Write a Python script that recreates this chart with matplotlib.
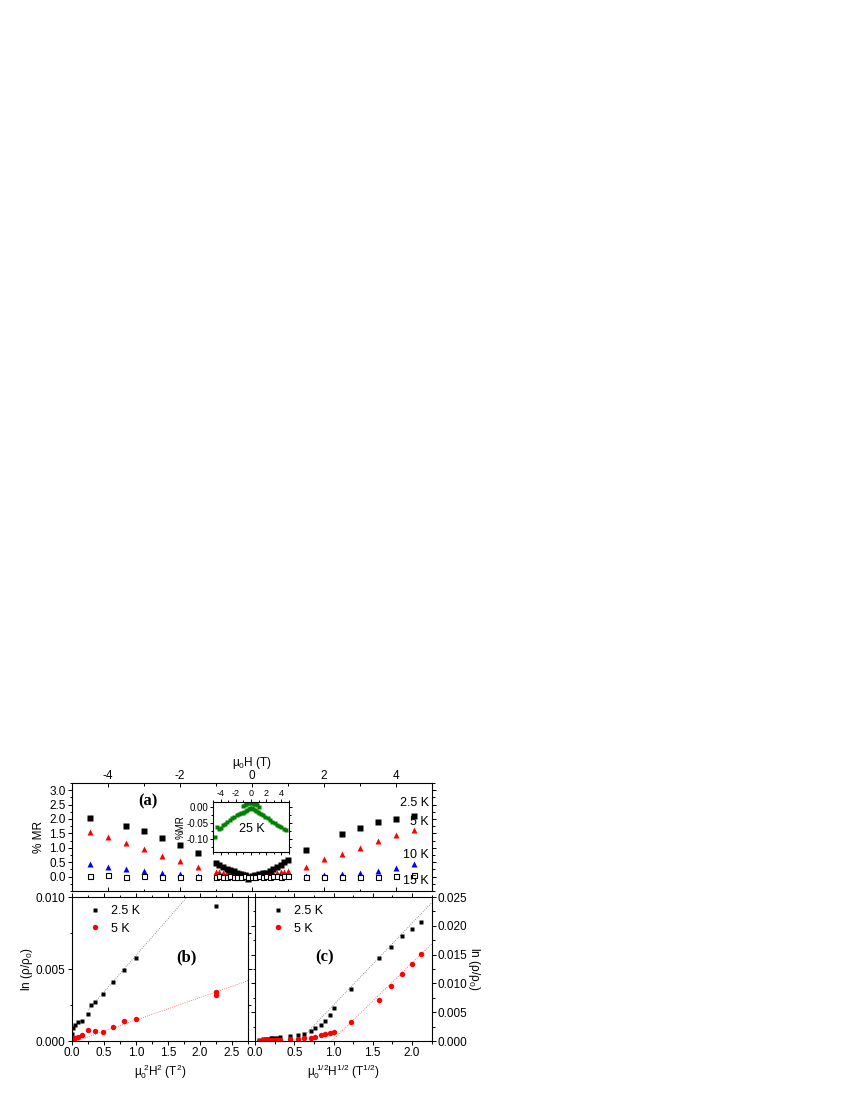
import numpy as np
import matplotlib
matplotlib.use('Agg')
import matplotlib.pyplot as plt
from matplotlib.ticker import MultipleLocator

plt.rcParams['font.family'] = ['Liberation Sans', 'DejaVu Sans']
plt.rcParams['mathtext.fontset'] = 'custom'
plt.rcParams['mathtext.rm'] = 'Liberation Sans'
plt.rcParams['mathtext.it'] = 'Liberation Sans:italic'
plt.rcParams['font.size'] = 8.5

# ---------------- data: panel (a) %MR vs mu0H ----------------
low_H = [-1.0, -0.9, -0.8, -0.7, -0.6, -0.5, -0.4, -0.3, -0.2, -0.1, 0.0,
         0.1, 0.2, 0.3, 0.4, 0.5, 0.6, 0.7, 0.8, 0.9, 1.0]

H_25 = [-4.5, -3.5, -3.0, -2.5, -2.0, -1.5] + low_H + [1.5, 2.5, 3.0, 3.5, 4.0, 4.5]
MR_25 = [2.04, 1.77, 1.57, 1.33, 1.11, 0.82,
         0.46, 0.39, 0.33, 0.28, 0.23, 0.18, 0.13, 0.09, 0.05, -0.07, 0.02,
         0.05, 0.08, 0.11, 0.14, 0.19, 0.27, 0.33, 0.41, 0.49, 0.58,
         0.93, 1.48, 1.68, 1.88, 2.00, 2.12]

H_5 = [-4.5, -4.0, -3.5, -3.0, -2.5, -2.0, -1.5] + low_H + [1.5, 2.0, 2.5, 3.0, 3.5, 4.0, 4.5]
MR_5 = [1.55, 1.38, 1.18, 0.97, 0.73, 0.53, 0.33,
        0.15, 0.17, 0.13, 0.16, 0.12, 0.14, 0.10, 0.12, 0.08, 0.06, 0.04,
        0.07, 0.09, 0.10, 0.12, 0.11, 0.14, 0.13, 0.16, 0.15, 0.18,
        0.35, 0.60, 0.78, 1.01, 1.23, 1.43, 1.62]

H_10 = H_5
MR_10 = [0.42, 0.33, 0.27, 0.18, 0.11, 0.08, 0.03,
         0.05, 0.04, 0.03, 0.05, 0.02, 0.04, 0.03, 0.02, 0.03, 0.01, 0.00,
         0.02, 0.01, 0.03, 0.02, 0.04, 0.03, 0.05, 0.04, 0.03, 0.05,
         0.02, 0.05, 0.08, 0.13, 0.20, 0.30, 0.45]

H_15 = H_5
MR_15 = [0.03, 0.04, 0.00, 0.01, -0.02, 0.00, -0.01,
         0.00, 0.01, -0.01, 0.00, 0.01, 0.00, -0.01, 0.00, 0.01, -0.02, -0.01,
         0.00, 0.01, 0.00, 0.01, 0.00, 0.02, 0.01, 0.00, 0.02, 0.01,
         0.00, -0.03, 0.00, 0.00, 0.00, 0.02, 0.07]

# inset: 25 K
H_ins = [-4.7, -4.45, -4.2, -3.95, -3.7, -3.4, -3.1, -2.8, -2.5, -2.2, -1.9, -1.6, -1.3,
         -1.1, -1.0, -0.9, -0.8, -0.7, -0.6, -0.5, -0.4, -0.3, -0.2, -0.1, 0.0,
         0.1, 0.2, 0.3, 0.4, 0.5, 0.6, 0.7, 0.8, 0.9, 1.0, 1.1,
         1.3, 1.6, 1.9, 2.2, 2.5, 2.8, 3.1, 3.4, 3.7, 4.0, 4.3, 4.6]
MR_ins = [-0.095, -0.062, -0.070, -0.066, -0.058, -0.052, -0.046, -0.041, -0.036, -0.031, -0.026, -0.022, -0.019,
          -0.020, 0.002, -0.016, 0.006, -0.012, 0.009, -0.010, 0.011, -0.006, 0.012, -0.004, 0.013,
          -0.005, 0.012, -0.008, 0.010, -0.011, 0.007, -0.014, 0.004, -0.017, 0.000, -0.020,
          -0.022, -0.027, -0.032, -0.036, -0.041, -0.046, -0.050, -0.055, -0.060, -0.063, -0.068, -0.072]

# ---------------- panel (b): ln(rho/rho0) vs mu0^2 H^2 ----------------
b_x_25 = [0.0, 0.01, 0.04, 0.09, 0.16, 0.25, 0.30, 0.36, 0.49, 0.64, 0.81, 1.0, 2.25]
b_y_25 = [0.0005, 0.0009, 0.0011, 0.0013, 0.0014, 0.0019, 0.0025, 0.0027, 0.0033,
          0.0041, 0.0049, 0.0058, 0.0094]
b_x_5 = [0.0, 0.01, 0.04, 0.09, 0.16, 0.25, 0.36, 0.49, 0.64, 0.81, 1.0, 2.25, 2.25]
b_y_5 = [0.0001, 0.0002, 0.0002, 0.0003, 0.0004, 0.0008, 0.0007, 0.0006, 0.0010,
         0.0014, 0.0015, 0.0032, 0.0034]
b_fit_25 = (0.00507, 0.00088)   # slope, intercept
b_fit_5 = (0.00156, -0.0001)

# ---------------- panel (c): ln(rho/rho0) vs mu0^1/2 H^1/2 ----------------
c_x = [0.05, 0.10, 0.14, 0.17, 0.20, 0.22, 0.25, 0.28, 0.32, 0.45, 0.55, 0.63, 0.71,
       0.77, 0.84, 0.89, 0.95, 1.00, 1.22, 1.58, 1.73, 1.87, 2.00, 2.12]
c_y_25 = [0.0002, 0.0003, 0.0004, 0.0004, 0.0005, 0.0005, 0.0006, 0.0006, 0.0007,
          0.0008, 0.0010, 0.0013, 0.0017, 0.0022, 0.0028, 0.0035, 0.0045, 0.0057,
          0.0091, 0.0145, 0.0164, 0.0183, 0.0195, 0.0206]
c_y_5 = [0.0000, 0.0001, 0.0001, 0.0001, 0.0001, 0.0001, 0.0001, 0.0002, 0.0002,
         0.0003, 0.0003, 0.0005, 0.0006, 0.0007, 0.0010, 0.0013, 0.0014, 0.0015,
         0.0033, 0.0072, 0.0095, 0.0116, 0.0134, 0.0151]
c_fit_25 = (0.0142, -0.00795)
c_fit_5 = (0.0132, -0.01287)

# ---------------- figure ----------------
fig = plt.figure(figsize=(8.5, 11), dpi=100)
axa = fig.add_axes([0.0847, 0.19, 0.4231, 0.0982])
axb = fig.add_axes([0.0847, 0.0536, 0.2071, 0.1309])
axc = fig.add_axes([0.3, 0.0536, 0.2078, 0.1309])
axi = fig.add_axes([0.2506, 0.2255, 0.0894, 0.0455])

def style(ax):
    for s in ax.spines.values():
        s.set_linewidth(0.8)
    ax.tick_params(which='both', direction='out', width=0.7, labelsize=8.5, pad=1.5)
    ax.tick_params(which='major', length=3)
    ax.tick_params(which='minor', length=1.8)

# panel (a)
style(axa)
axa.plot(H_10, MR_10, '^', color='#0000ff', ms=4.8, mec='none')
axa.plot(H_5, MR_5, '^', color='#ff0000', ms=4.8, mec='none')
axa.plot(H_25, MR_25, 's', color='black', ms=3.9, mec='none')
axa.plot(H_15, MR_15, 's', mfc='white', mec='black', ms=3.6, mew=0.8)
axa.set_xlim(-5, 5)
axa.set_ylim(-0.5, 3.25)
axa.xaxis.set_major_locator(MultipleLocator(2))
axa.xaxis.set_minor_locator(MultipleLocator(1))
axa.set_yticks([0.0, 0.5, 1.0, 1.5, 2.0, 2.5, 3.0])
axa.set_yticklabels(['0.0', '0.5', '1.0', '1.5', '2.0', '2.5', '3.0'])
axa.yaxis.set_minor_locator(MultipleLocator(0.25))
axa.tick_params(axis='x', which='both', direction='in', top=True, bottom=True,
                labeltop=True, labelbottom=False, pad=1.0)
axa.tick_params(axis='y', which='both', left=True, right=True, labelleft=True, labelright=False)
axa.set_xticks([-4, -2, 0, 2, 4])
axa.set_xticklabels(['-4', '-2', '0', '2', '4'])
axa.xaxis.set_label_position('top')
axa.set_xlabel(r'$\mathregular{\mu_0H}$ (T)', fontsize=8.5, labelpad=2.5)
axa.set_ylabel('% MR', fontsize=8.5, labelpad=3)
axa.text(-2.9, 2.6, '(a)', family='Liberation Serif', weight='bold', fontsize=12,
         ha='center', va='center')
for lab, yv in [('2.5 K', 2.55), ('5 K', 1.88), ('10 K', 0.76), ('15 K', -0.17)]:
    axa.text(4.92, yv, lab, fontsize=9, ha='right', va='center')

# inset
style(axi)
axi.plot(H_ins, MR_ins, 's', color='#008000', ms=2.4, mec='none')
axi.set_xlim(-5, 5)
axi.set_ylim(-0.14, 0.015)
axi.xaxis.set_minor_locator(MultipleLocator(1))
axi.yaxis.set_minor_locator(MultipleLocator(0.025))
axi.tick_params(which='both', labelsize=7, pad=1)
axi.tick_params(which='major', length=2)
axi.tick_params(which='minor', length=1.2)
axi.tick_params(axis='x', which='both', top=True, bottom=True, labeltop=True,
                labelbottom=False, labelsize=6.5, pad=0.5)
axi.tick_params(axis='y', which='both', left=True, right=True)
axi.set_xticks([-4, -2, 0, 2, 4])
axi.set_xticklabels(['-4', '-2', '0', '2', '4'])
axi.set_yticks([0.0, -0.05, -0.10])
axi.set_yticklabels(['0.00', '-0.05', '-0.10'])
axi.set_ylabel('%MR', fontsize=7, labelpad=1)
axi.text(0.1, -0.07, '25 K', fontsize=9, ha='center', va='center')

legend_kw = dict(loc='upper left', frameon=False, fontsize=9, handletextpad=0.8,
                 borderpad=0, borderaxespad=0, handlelength=1.0, labelspacing=0.45)

# panel (b)
style(axb)
xb = np.array([0.25, 2.0])
axb.plot(xb, b_fit_25[0] * xb + b_fit_25[1], ':', color='0.45', lw=0.6)
xb5 = np.array([0.1, 2.75])
axb.plot(xb5, b_fit_5[0] * xb5 + b_fit_5[1], ':', color='#ff5050', lw=0.6)
axb.plot(b_x_25, b_y_25, 's', color='black', ms=3.4, mec='none', label='2.5 K')
axb.plot(b_x_5, b_y_5, 'o', color='#ff0000', ms=3.9, mec='none', label='5 K')
axb.set_xlim(0, 2.75)
axb.set_ylim(0, 0.010)
axb.xaxis.set_minor_locator(MultipleLocator(0.25))
axb.yaxis.set_minor_locator(MultipleLocator(0.0025))
axb.tick_params(axis='x', which='both', top=True, bottom=True)
axb.tick_params(axis='y', which='both', left=True, right=True)
axb.set_xticks([0, 0.5, 1.0, 1.5, 2.0, 2.5])
axb.set_xticklabels(['0.0', '0.5', '1.0', '1.5', '2.0', '2.5'])
axb.set_yticks([0.0, 0.005, 0.010])
axb.set_yticklabels(['0.000', '0.005', '0.010'])
axb.set_xlabel(r'$\mathregular{\mu_0^{\ 2}H^2}$ (T$^\mathregular{2}$)', fontsize=8.5, labelpad=2)
axb.set_ylabel(r'ln ($\mathregular{\rho/\rho_0}$)', fontsize=8.5, labelpad=1)
axb.legend(bbox_to_anchor=(0.095, 0.945), **legend_kw)
axb.text(1.79, 0.0058, '(b)', family='Liberation Serif', weight='bold', fontsize=12,
         ha='center', va='center')

# panel (c)
style(axc)
xc = np.array([0.6, 2.25])
axc.plot(xc, c_fit_25[0] * xc + c_fit_25[1], ':', color='0.45', lw=0.6)
xc5 = np.array([0.97, 2.25])
axc.plot(xc5, c_fit_5[0] * xc5 + c_fit_5[1], ':', color='#ff5050', lw=0.6)
axc.plot(c_x, c_y_25, 's', color='black', ms=3.4, mec='none', label='2.5 K')
axc.plot(c_x, c_y_5, 'o', color='#ff0000', ms=3.9, mec='none', label='5 K')
axc.set_xlim(0, 2.25)
axc.set_ylim(0, 0.025)
axc.xaxis.set_minor_locator(MultipleLocator(0.25))
axc.yaxis.set_minor_locator(MultipleLocator(0.0025))
axc.tick_params(axis='x', which='both', top=True, bottom=True)
axc.tick_params(axis='y', which='both', left=True, right=True, labelleft=False, labelright=True)
axc.set_xticks([0, 0.5, 1.0, 1.5, 2.0])
axc.set_xticklabels(['0.0', '0.5', '1.0', '1.5', '2.0'])
axc.set_yticks([0.0, 0.005, 0.010, 0.015, 0.020, 0.025])
axc.set_yticklabels(['0.000', '0.005', '0.010', '0.015', '0.020', '0.025'])
axc.yaxis.set_label_position('right')
axc.set_xlabel(r'$\mathregular{\mu_0^{\ 1/2}H^{1/2}}$ (T$^\mathregular{1/2}$)', fontsize=8.5, labelpad=2)
axc.set_ylabel(r'ln ($\mathregular{\rho/\rho_0}$)', fontsize=8.5, rotation=270, labelpad=10)
axc.legend(bbox_to_anchor=(0.095, 0.945), **legend_kw)
axc.text(0.89, 0.0145, '(c)', family='Liberation Serif', weight='bold', fontsize=12,
         ha='center', va='center')

fig.savefig('out.png', dpi=100)
